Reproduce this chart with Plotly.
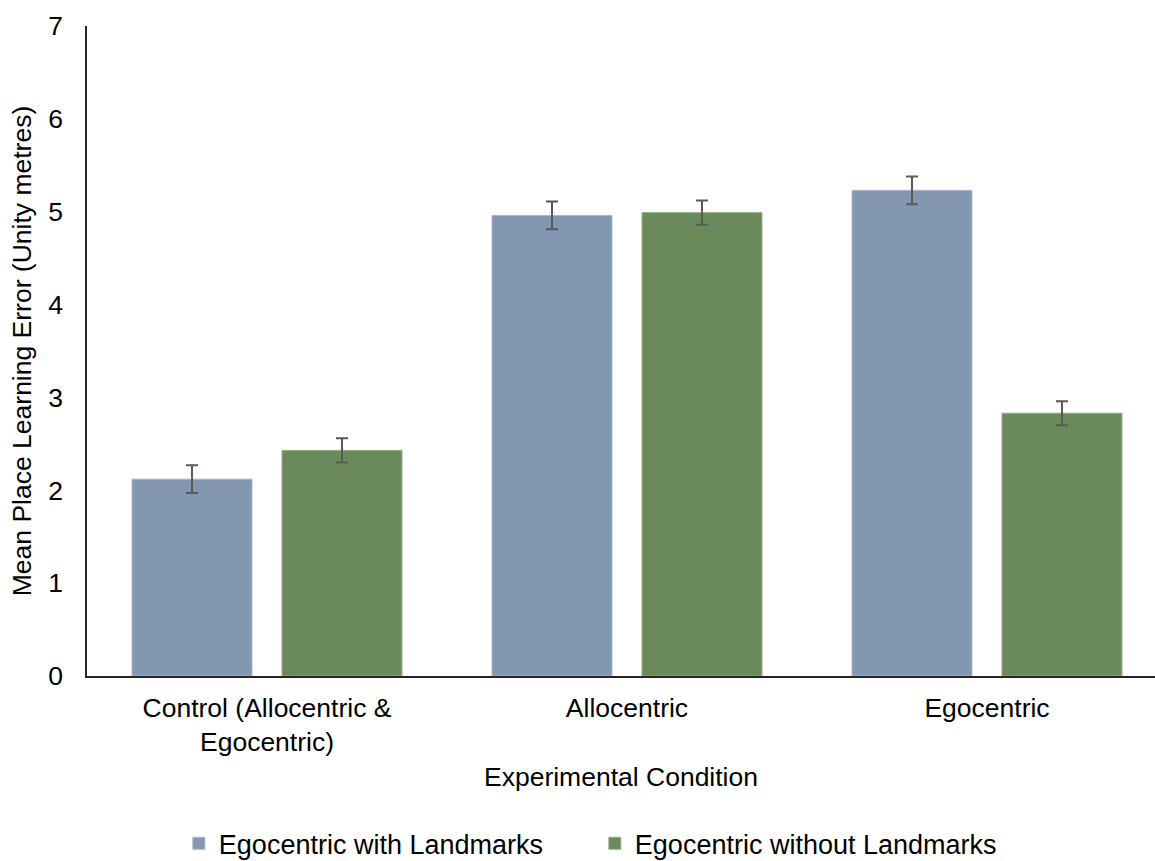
import plotly.graph_objects as go

# Experimental conditions on the x axis
conditions = ["Control (Allocentric &<br>Egocentric)", "Allocentric", "Egocentric"]

# Mean place-learning error (Unity metres) per group
with_landmarks = [2.12, 4.96, 5.23]
without_landmarks = [2.43, 4.99, 2.83]

# Standard errors
with_landmarks_se = [0.15, 0.15, 0.15]
without_landmarks_se = [0.13, 0.13, 0.13]

series_names = ["Egocentric with Landmarks", "Egocentric without Landmarks"]
y_ticks = [0, 1, 2, 3, 4, 5, 6, 7]

FONT = "Liberation Sans, Arial, sans-serif"
BLUE = "#8497B0"
GREEN = "#6A8A5B"
ERR = "#5A5A5A"

fig = go.Figure()
fig.add_trace(go.Bar(
    name=series_names[0], x=conditions, y=with_landmarks,
    marker=dict(color=BLUE, line=dict(color="#A9B8CC", width=1)),
    error_y=dict(type="data", array=with_landmarks_se, color=ERR,
                 thickness=2, width=6),
))
fig.add_trace(go.Bar(
    name=series_names[1], x=conditions, y=without_landmarks,
    marker=dict(color=GREEN, line=dict(color="#93AD86", width=1)),
    error_y=dict(type="data", array=without_landmarks_se, color=ERR,
                 thickness=2, width=6),
))

fig.update_layout(
    width=1155, height=861,
    margin=dict(l=87, r=0, t=26, b=185, autoexpand=False),
    paper_bgcolor="white", plot_bgcolor="white",
    barmode="group", bargap=0.1667, bargroupgap=0.2,
    font=dict(family=FONT, size=26, color="black"),
    showlegend=True,
    legend=dict(orientation="h", x=0.086, xanchor="left",
                y=-0.258, yanchor="middle",
                font=dict(size=27), itemwidth=30,
                entrywidth=371, entrywidthmode="pixels",
                traceorder="normal"),
    xaxis=dict(
        range=[-0.5, 2.4667],
        showline=True, linecolor="#262626", linewidth=1.5,
        showgrid=False, ticks="", zeroline=False,
        tickfont=dict(size=26.5), ticklabelstandoff=7,
        title=dict(text="Experimental Condition", font=dict(size=26.5), standoff=11),
    ),
    yaxis=dict(
        range=[0, 7], tickvals=y_ticks,
        showline=True, linecolor="#262626", linewidth=1.5,
        showgrid=False, ticks="", zeroline=False,
        tickfont=dict(size=26.5), ticklabelstandoff=17,
        title=dict(text="Mean Place Learning Error (Unity metres)",
                   font=dict(size=26.5), standoff=9),
    ),
)

fig.write_html("out.html")
